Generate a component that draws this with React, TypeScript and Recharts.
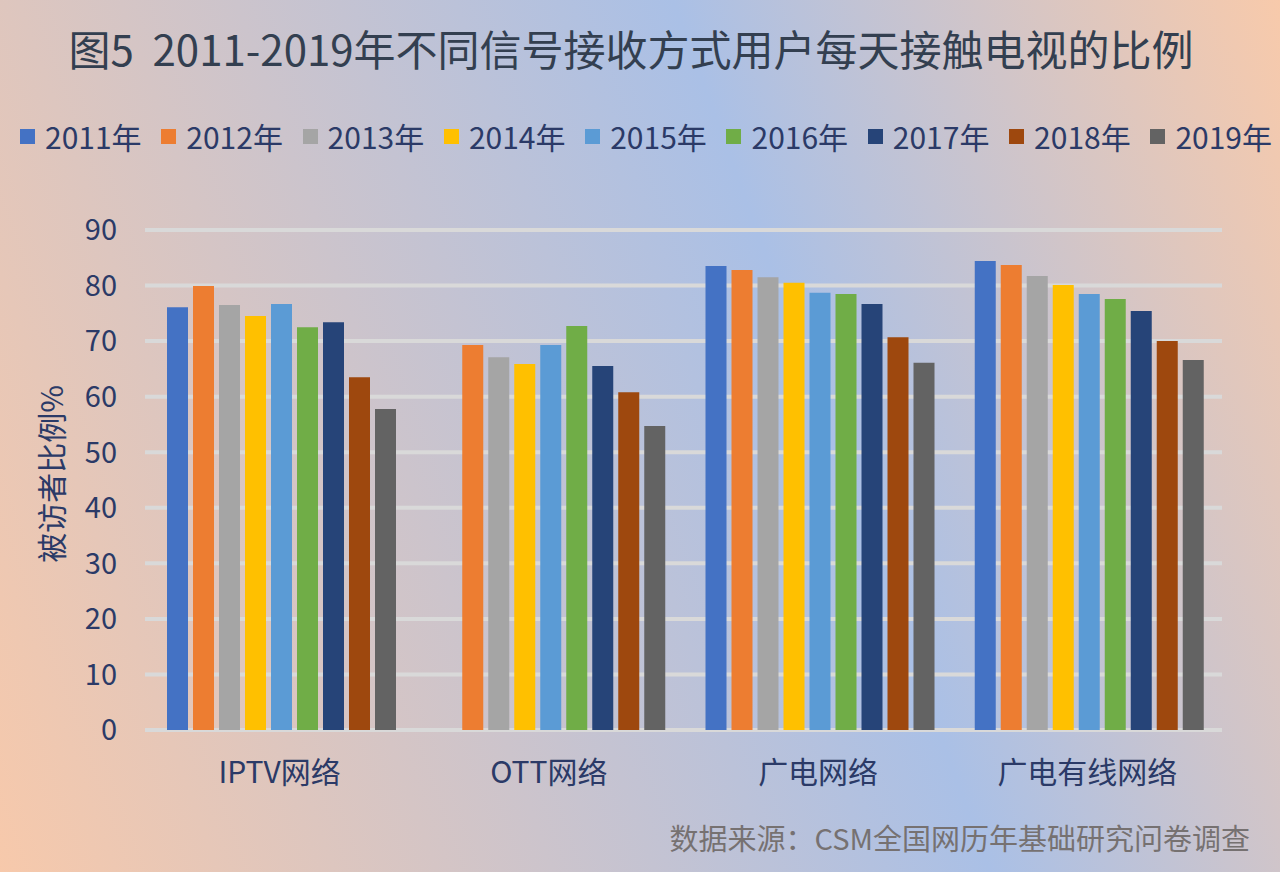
import { BarChart, Bar, XAxis, YAxis, CartesianGrid } from "recharts";

const categories = ["IPTV网络", "OTT网络", "广电网络", "广电有线网络"];
const years = ["2011年", "2012年", "2013年", "2014年", "2015年", "2016年", "2017年", "2018年", "2019年"];

const v2011 = [76.1, null, 83.5, 84.4];
const v2012 = [79.9, 69.3, 82.8, 83.7];
const v2013 = [76.5, 67.1, 81.5, 81.7];
const v2014 = [74.5, 65.9, 80.5, 80.1];
const v2015 = [76.7, 69.3, 78.7, 78.5];
const v2016 = [72.5, 72.7, 78.5, 77.6];
const v2017 = [73.4, 65.5, 76.7, 75.4];
const v2018 = [63.5, 60.8, 70.7, 70.0];
const v2019 = [57.8, 54.7, 66.1, 66.6];

const yTicks = [0, 10, 20, 30, 40, 50, 60, 70, 80, 90];

const seriesValues = [v2011, v2012, v2013, v2014, v2015, v2016, v2017, v2018, v2019];
const COLORS = ["#4472C4", "#ED7D31", "#A5A5A5", "#FFC000", "#5B9BD5", "#70AD47", "#264478", "#9E480E", "#636363"];

const data = categories.map((name, i) => {
  const row: Record<string, any> = { name };
  years.forEach((y, j) => {
    row[y] = seriesValues[j][i];
  });
  return row;
});

const FONT = "'Noto Sans CJK SC', 'Noto Sans', sans-serif";
const NAVY = "#2B3A67";

const LegendRow = () => (
  <div
    style={{
      position: "absolute",
      top: 114,
      left: 20,
      width: 1252,
      display: "flex",
      justifyContent: "space-between",
      fontSize: 30,
      color: NAVY,
    }}
  >
    {years.map((y, i) => (
      <div key={y} style={{ display: "flex", alignItems: "center" }}>
        <span style={{ width: 15, height: 15, background: COLORS[i], display: "inline-block", marginRight: 10 }} />
        <span>{y}</span>
      </div>
    ))}
  </div>
);

export default function App() {
  return (
    <div
      style={{
        position: "absolute",
        left: 0,
        top: 0,
        width: 1280,
        height: 872,
        overflow: "hidden",
        background: "linear-gradient(70deg, #f7c9ab 0%, #aac0e6 62%, #f8caab 100%)",
        fontFamily: FONT,
      }}
    >
      <div
        style={{
          position: "absolute",
          top: 17,
          left: -9,
          width: 1280,
          textAlign: "center",
          fontSize: 42,
          fontWeight: 400,
          color: "#333F50",
          whiteSpace: "pre",
        }}
      >
        {"图5  2011-2019年不同信号接收方式用户每天接触电视的比例"}
      </div>
      <LegendRow />
      <div
        style={{
          position: "absolute",
          left: 50,
          top: 474,
          transform: "translate(-50%, -50%) rotate(-90deg)",
          fontSize: 30,
          color: NAVY,
          whiteSpace: "nowrap",
        }}
      >
        被访者比例%
      </div>
      <BarChart
        width={1280}
        height={872}
        data={data}
        margin={{ top: 230, right: 58, bottom: 112, left: 0 }}
        barCategoryGap={22}
        barGap={5}
      >
        <CartesianGrid horizontal vertical={false} stroke="#d9d9d9" strokeWidth={4} />
        <XAxis
          dataKey="name"
          height={30}
          axisLine={false}
          tickLine={false}
          tickSize={0}
          tickMargin={32}
          tick={{ fontSize: 30, fill: NAVY, fontFamily: FONT }}
        />
        <YAxis
          width={145}
          domain={[0, 90]}
          ticks={yTicks}
          axisLine={false}
          tickLine={false}
          tickSize={0}
          tickMargin={28}
          tick={{ fontSize: 29, fill: NAVY, fontFamily: FONT }}
        />
        {years.map((y, i) => (
          <Bar key={y} dataKey={y} fill={COLORS[i]} isAnimationActive={false} />
        ))}
      </BarChart>
      <div
        style={{
          position: "absolute",
          right: 30,
          top: 816,
          fontSize: 29,
          color: "#767171",
          whiteSpace: "nowrap",
        }}
      >
        数据来源：CSM全国网历年基础研究问卷调查
      </div>
    </div>
  );
}
